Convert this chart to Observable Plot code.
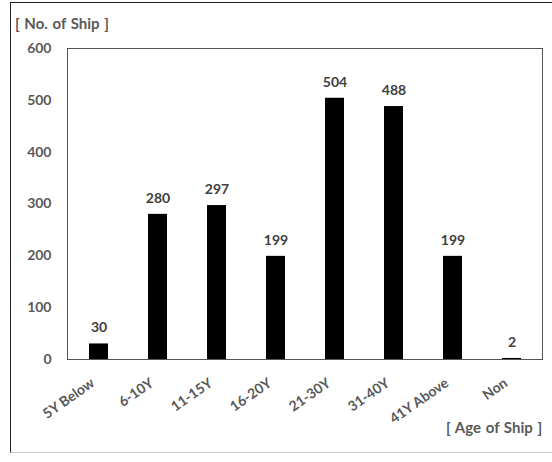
<!DOCTYPE html>
<html>
<head>
<meta charset="utf-8">
<script src="https://cdn.jsdelivr.net/npm/d3@7"></script>
<script src="https://cdn.jsdelivr.net/npm/@observablehq/plot@0.6"></script>
<style>
  html, body { margin: 0; padding: 0; background: #fff; }
  #wrap { position: relative; width: 552px; height: 462px; overflow: hidden; font-family: Lato, "Open Sans", sans-serif; }
  #border { position: absolute; left: 10px; top: 2px; width: 600px; height: 449px;
            border-left: 1.5px solid #222; border-top: 1.5px solid #222; border-bottom: 1px solid #c8c8c8; }
  .lbl { position: absolute; color: #595959; font-weight: 700; font-size: 15px; white-space: nowrap; word-spacing: 1px; }
  #chart { position: absolute; left: 0; top: 0; }
</style>
</head>
<body>
<div id="wrap">
  <div id="border"></div>
  <div id="chart"></div>
  <div class="lbl" style="left:15px; top:14px;">[ No. of Ship ]</div>
  <div class="lbl" style="left:446px; top:418px;">[ Age of Ship ]</div>
</div>
<script>
// Ships by age bracket
const ages = ["5Y Below", "6-10Y", "11-15Y", "16-20Y", "21-30Y", "31-40Y", "41Y Above", "Non"];
const ships = [30, 280, 297, 199, 504, 488, 199, 2];
const yTicks = [0, 100, 200, 300, 400, 500, 600];

const data = ages.map((age, i) => ({age, count: ships[i]}));

const chart = Plot.plot({
  width: 552,
  height: 462,
  marginLeft: 67,
  marginRight: 10,
  marginTop: 48,
  marginBottom: 103,
  style: {fontFamily: "Lato, 'Open Sans', sans-serif", background: "transparent"},
  x: {domain: ages, paddingInner: 0.68, paddingOuter: 0.34, label: null},
  y: {domain: [0, 600], label: null},
  marks: [
    Plot.barY(data, {x: "age", y: "count", fill: "#000"}),
    Plot.text(data, {x: "age", y: "count", text: d => String(d.count), dy: -16,
      fill: "#404040", fontWeight: 700, fontSize: 14}),
    Plot.axisY({ticks: yTicks, tickSize: 0, tickPadding: 16, fontSize: 14, fontWeight: 700,
      fill: "#595959", label: null}),
    Plot.axisX({tickSize: 0, tickPadding: 20, tickRotate: -35, dx: -6, dy: 2, fontSize: 14, fontWeight: 700,
      fill: "#595959", label: null}),
    Plot.frame({stroke: "#555", strokeWidth: 1})
  ]
});
document.getElementById("chart").appendChild(chart);
</script>
</body>
</html>
